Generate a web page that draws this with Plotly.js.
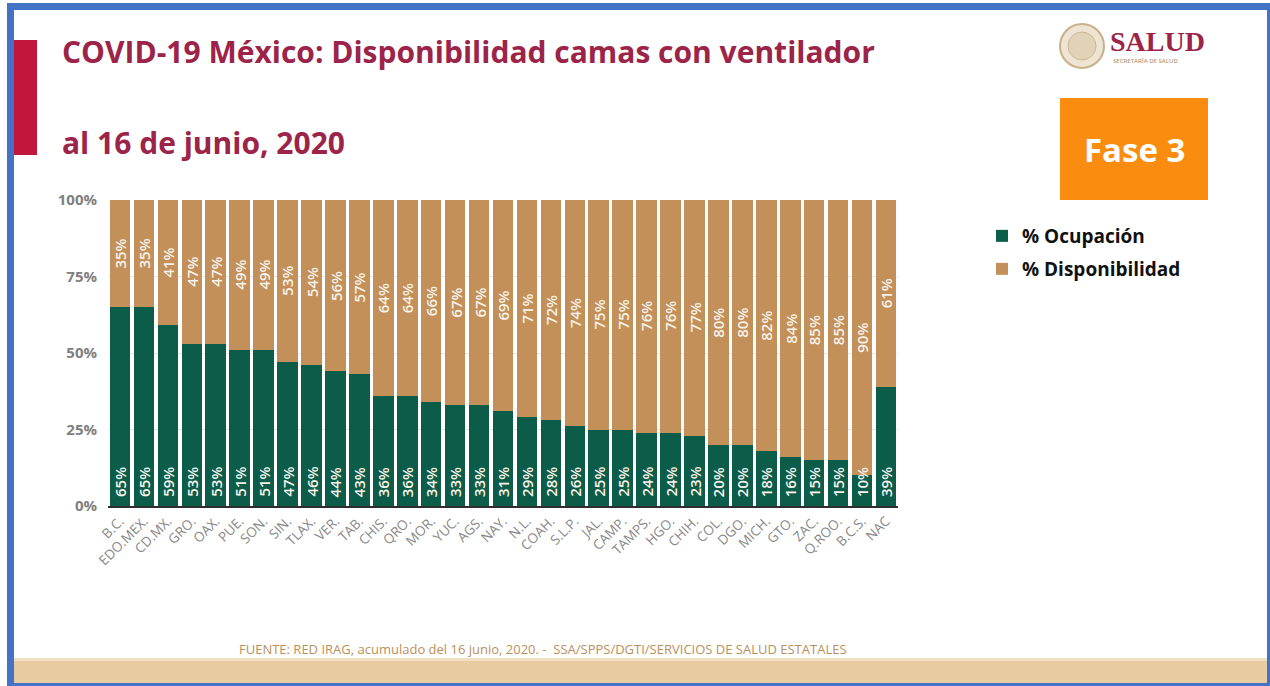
<!DOCTYPE html>
<html>
<head>
<meta charset="utf-8">
<script src="https://cdn.plot.ly/plotly-3.0.1.min.js"></script>
<style>
html,body{margin:0;padding:0;background:#ffffff;}
#chart{width:1270px;height:686px;}
</style>
</head>
<body>
<div id="chart"></div>
<script>
// ---- Data ----
const categories = ["B.C.","EDO.MEX.","CD.MX.","GRO.","OAX.","PUE.","SON.","SIN.","TLAX.","VER.","TAB.","CHIS.","QRO.","MOR.","YUC.","AGS.","NAY.","N.L.","COAH.","S.L.P.","JAL.","CAMP.","TAMPS.","HGO.","CHIH.","COL.","DGO.","MICH.","GTO.","ZAC.","Q.ROO.","B.C.S.","NAC"];
const ocupacion = [65,65,59,53,53,51,51,47,46,44,43,36,36,34,33,33,31,29,28,26,25,25,24,24,23,20,20,18,16,15,15,10,39];
const disponibilidad = [35,35,41,47,47,49,49,53,54,56,57,64,64,66,67,67,69,71,72,74,75,75,76,76,77,80,80,82,84,85,85,90,61];
const yTicks = [0,25,50,75,100];
const yTickText = ["0%","25%","50%","75%","100%"];
const seriesNames = ["% Ocupación","% Disponibilidad"];

// ---- Geometry helpers (pixel -> paper) ----
const W = 1270, H = 686;
const M = {l:108, r:372, t:200, b:180};
const PW = W - M.l - M.r, PH = H - M.t - M.b;
const px = v => (v - M.l) / PW;
const py = v => (H - M.b - v) / PH;

const FONT = "Open Sans, Noto Sans, sans-serif";
const GREEN = "#0b5c48";
const TAN = "#c39059";
const CRIMSON = "#9d2449";
const LABEL = "#f7f3ea";

const traces = [
  {
    type: "bar",
    name: seriesNames[0],
    x: categories,
    y: ocupacion,
    marker: {color: GREEN},
    hovertemplate: "%{x}: %{y}%<extra>% Ocupación</extra>",
    legend: "legend"
  },
  {
    type: "bar",
    name: seriesNames[1],
    x: categories,
    y: disponibilidad,
    marker: {color: TAN},
    hovertemplate: "%{x}: %{y}%<extra>% Disponibilidad</extra>",
    legend: "legend2"
  }
];

function rect(x0, y0, x1, y1, color, extra) {
  return Object.assign({
    type: "rect", xref: "paper", yref: "paper",
    x0: px(x0), x1: px(x1), y0: py(y0), y1: py(y1),
    fillcolor: color, line: {width: 0}, layer: "below"
  }, extra || {});
}

const shapes = [
  rect(14, 660, 1268, 683, "#e8cba1"),
  rect(14, 658, 1268, 661, "#f1dfc4"),
  rect(14, 40, 37, 155, "#c1173f"),
  rect(1060, 98, 1208, 200, "#fa8c0f"),
  {type: "circle", xref: "paper", yref: "paper",
   x0: px(1060), x1: px(1104), y0: py(24), y1: py(68),
   fillcolor: "#eee4d3", line: {color: "#c9b08a", width: 2}, layer: "below"},
  {type: "circle", xref: "paper", yref: "paper",
   x0: px(1068), x1: px(1096), y0: py(32), y1: py(60),
   fillcolor: "#e2d2b8", line: {color: "#cdb894", width: 1}, layer: "below"},
  rect(7, 3, 14, 686, "#4472c4", {layer: "above"}),
  rect(7, 3, 1270, 10, "#4472c4", {layer: "above"}),
  rect(1267, 3, 1270, 686, "#4472c4", {layer: "above"}),
  rect(7, 683, 1270, 686, "#4472c4", {layer: "above"})
];

function ann(text, x, y, opts) {
  return Object.assign({
    text: text, xref: "paper", yref: "paper", x: px(x), y: py(y),
    showarrow: false, xanchor: "left", yanchor: "middle"
  }, opts || {});
}

const annotations = [
  ann("COVID-19 México: Disponibilidad camas con ventilador", 60, 52,
      {font: {family: FONT, size: 30, color: CRIMSON, weight: 700}}),
  ann("al 16 de junio, 2020", 60, 142,
      {font: {family: FONT, size: 30, color: CRIMSON, weight: 700}}),
  ann("Fase 3", 1134, 150,
      {xanchor: "center", font: {family: FONT, size: 33, color: "#ffffff", weight: 700}}),
  ann("SALUD", 1108, 41,
      {font: {family: "Liberation Serif, DejaVu Serif, serif", size: 28, color: CRIMSON, weight: 700}}),
  ann("SECRETARÍA DE SALUD", 1111, 61,
      {font: {family: FONT, size: 6, color: "#b89a78", weight: 600}}),
  ann("FUENTE: RED IRAG, acumulado del 16 junio, 2020. -  SSA/SPPS/DGTI/SERVICIOS DE SALUD ESTATALES", 543, 649,
      {xanchor: "center", font: {family: FONT, size: 13, color: "#b98f5d", weight: 400}})
];

// value labels inside the bars, placed with data coordinates
const labelFont = {family: FONT, size: 15, color: LABEL, weight: 600};
categories.forEach((c, i) => {
  annotations.push({
    x: c, y: 0, xref: "x", yref: "y", text: ocupacion[i] + "%",
    textangle: -90, showarrow: false, xanchor: "center", yanchor: "bottom",
    yshift: 7, font: labelFont
  });
  annotations.push({
    x: c, y: ocupacion[i] + disponibilidad[i] / 2, xref: "x", yref: "y",
    text: disponibilidad[i] + "%",
    textangle: -90, showarrow: false, xanchor: "center", yanchor: "middle",
    font: labelFont
  });
});

const legendBase = {
  xref: "paper", yref: "paper", xanchor: "left", yanchor: "middle",
  bgcolor: "rgba(0,0,0,0)", borderwidth: 0,
  font: {family: FONT, size: 19, color: "#111111", weight: 700},
  itemwidth: 30
};

const layout = {
  width: W, height: H,
  margin: M,
  paper_bgcolor: "#ffffff",
  plot_bgcolor: "rgba(0,0,0,0)",
  barmode: "stack",
  bargap: 0.14,
  showlegend: true,
  legend: Object.assign({}, legendBase, {x: px(982), y: py(236)}),
  legend2: Object.assign({}, legendBase, {x: px(982), y: py(269)}),
  xaxis: {
    type: "category",
    tickangle: -45,
    tickfont: {family: FONT, size: 13.5, color: "#888888"},
    showline: true, linecolor: "#2e2e2e", linewidth: 2,
    showgrid: false, ticks: "", fixedrange: true
  },
  yaxis: {
    range: [0, 100],
    tickmode: "array",
    tickvals: yTicks,
    ticktext: yTickText,
    tickfont: {family: FONT, size: 15, color: "#808080", weight: 700},
    gridcolor: "#ebe5de", gridwidth: 1,
    zeroline: false, showline: false, ticks: "",
    ticklabelstandoff: 10, fixedrange: true
  },
  shapes: shapes,
  annotations: annotations
};

Plotly.newPlot("chart", traces, layout, {displayModeBar: false, responsive: false});
</script>
</body>
</html>
